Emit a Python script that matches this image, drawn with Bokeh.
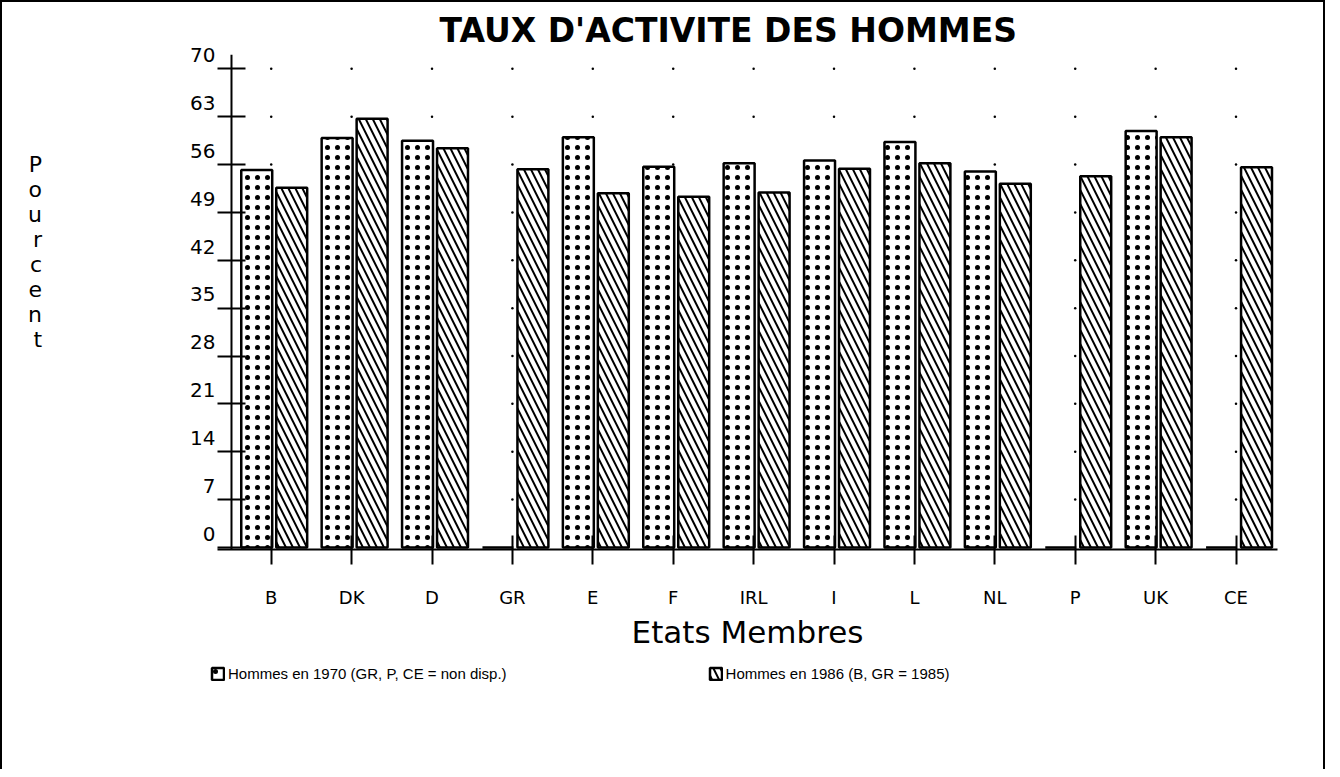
import numpy as np
from bokeh.plotting import figure
from bokeh.layouts import column
from bokeh.models import FixedTicker, LinearAxis, Span, Legend, LegendItem, Range1d
from bokeh.embed import file_html
from bokeh.resources import INLINE

# ---------------- data ----------------
categories = ["B", "DK", "D", "GR", "E", "F", "IRL", "I", "L", "NL", "P", "UK", "CE"]
hommes_1970 = [55.2, 59.9, 59.5, 0.0, 60.0, 55.7, 56.2, 56.6, 59.3, 55.0, 0.0, 60.9, 0.0]
hommes_1986 = [52.6, 62.7, 58.4, 55.3, 51.8, 51.3, 51.9, 55.4, 56.2, 53.2, 54.3, 60.0, 55.6]
y_ticks = [0, 7, 14, 21, 28, 35, 42, 49, 56, 63, 70]
y_tick_labels = ["0", "7", "14", "21", "28", "35", "42", "49", "56", "63", "70"]
title_text = "TAUX D'ACTIVITE DES HOMMES"
x_label = "Etats Membres"
y_label = "Pourcent"
legend_labels = ["Hommes en 1970 (GR, P, CE = non disp.)", "Hommes en 1986 (B, GR = 1985)"]

FONT = "DejaVu Sans"
idx = np.arange(len(categories))

style_70 = dict(fill_color="white", line_color="black", line_width=2.5,
                hatch_pattern="dot", hatch_scale=10, hatch_weight=2, hatch_color="black")
style_86 = dict(fill_color="white", line_color="black", line_width=2.5,
                hatch_pattern="left_diagonal_line", hatch_scale=14, hatch_weight=2,
                hatch_color="black")

p = figure(width=1321, height=658,
           x_range=Range1d(-0.668, 12.516), y_range=Range1d(-0.3, 72.1),
           output_backend="svg", toolbar_location=None,
           min_border_left=215, min_border_right=46,
           min_border_top=52, min_border_bottom=111)
p.grid.visible = False
p.outline_line_color = None
p.background_fill_color = "white"
p.border_fill_color = "white"

# title
p.title.text = title_text
p.title.align = "left"
p.title.offset = 222
p.title.text_font = FONT
p.title.text_font_size = "33px"
p.title.text_font_style = "bold"
p.title.text_color = "black"
p.title.standoff = 10

# dotted grid (intersections of ticks)
gx = [i for i in idx for v in y_ticks[1:]]
gy = [v for i in idx for v in y_ticks[1:]]
p.scatter(gx, gy, size=2.5, color="black", line_color=None)

# bars
r70 = p.vbar(x=idx - 0.18, width=0.385, top=hommes_1970, bottom=0, **style_70)
r86 = p.vbar(x=idx + 0.255, width=0.385, top=hommes_1986, bottom=0, **style_86)

# vertical axis line
p.add_layout(Span(location=-0.494, dimension="height", line_color="black", line_width=2))

# x axis
xa = p.xaxis[0]
xa.ticker = FixedTicker(ticks=list(idx))
xa.major_label_overrides = {int(i): c for i, c in zip(idx, categories)}
xa.major_tick_in = 14
xa.major_tick_out = 15
xa.major_tick_line_width = 2
xa.axis_line_width = 2
xa.minor_tick_line_color = None
xa.major_label_text_font = FONT
xa.major_label_text_font_size = "18px"
xa.major_label_text_color = "black"
xa.major_label_standoff = 22
xa.axis_label = x_label
xa.axis_label_text_font = FONT
xa.axis_label_text_font_size = "31px"
xa.axis_label_text_font_style = "normal"
xa.axis_label_text_color = "black"
xa.axis_label_standoff = 3

# inner y axis: ticks only
ya = p.yaxis[0]
ya.ticker = FixedTicker(ticks=y_ticks)
ya.major_label_overrides = {v: "" for v in y_ticks}
ya.major_tick_in = 28
ya.major_tick_out = 0
ya.major_tick_line_width = 2
ya.axis_line_color = None
ya.minor_tick_line_color = None
ya.major_label_standoff = 0

# outer y axis: labels (drawn slightly above the ticks, as in the original)
lab_pos = [v + 2 for v in y_ticks]
ya2 = LinearAxis(ticker=FixedTicker(ticks=lab_pos),
                 major_label_overrides={v: l for v, l in zip(lab_pos, y_tick_labels)},
                 major_tick_in=0, major_tick_out=0, axis_line_color=None,
                 minor_tick_line_color=None, major_label_standoff=2,
                 major_label_text_font=FONT, major_label_text_font_size="20px",
                 major_label_text_color="black",
                 axis_label="\n".join(list(y_label) + [" "] * 4),
                 axis_label_orientation="horizontal",
                 axis_label_standoff=145,
                 axis_label_text_font=FONT, axis_label_text_font_size="22px",
                 axis_label_text_line_height=1.0,
                 axis_label_text_font_style="normal", axis_label_text_color="black")
p.add_layout(ya2, "left")

# legend strip below the chart (its bar renderers are hidden; only swatches show)
p2 = figure(width=1321, height=109, x_range=Range1d(-0.668, 12.516), y_range=Range1d(0, 72),
            output_backend="svg", toolbar_location=None,
            x_axis_location=None, y_axis_location=None,
            min_border_left=208, min_border_right=0, min_border_top=0, min_border_bottom=0)
p2.grid.visible = False
p2.outline_line_color = None
p2.border_fill_color = "white"
if "frame_align" in p2.properties():
    p2.frame_align = False
l70 = p2.vbar(x=idx - 0.18, top=hommes_1970, width=0.385, visible=False, **style_70)
l86 = p2.vbar(x=idx + 0.255, top=hommes_1986, width=0.385, visible=False, **style_86)
legend = Legend(items=[LegendItem(label=legend_labels[0], renderers=[l70]),
                       LegendItem(label=legend_labels[1], renderers=[l86])],
                orientation="horizontal", location=(0, 87), spacing=201,
                glyph_width=15, glyph_height=15, label_standoff=3,
                label_text_font="Liberation Sans", label_text_font_size="15px",
                label_text_color="black", inactive_fill_alpha=0,
                padding=0, margin=0, border_line_color=None, background_fill_alpha=0)
p2.add_layout(legend, "center")

layout = column(p, p2, spacing=0,
                styles={"border-top": "2px solid black", "border-left": "2px solid black",
                        "border-right": "2px solid black"})

open("out.html", "w").write(file_html(layout, INLINE))
